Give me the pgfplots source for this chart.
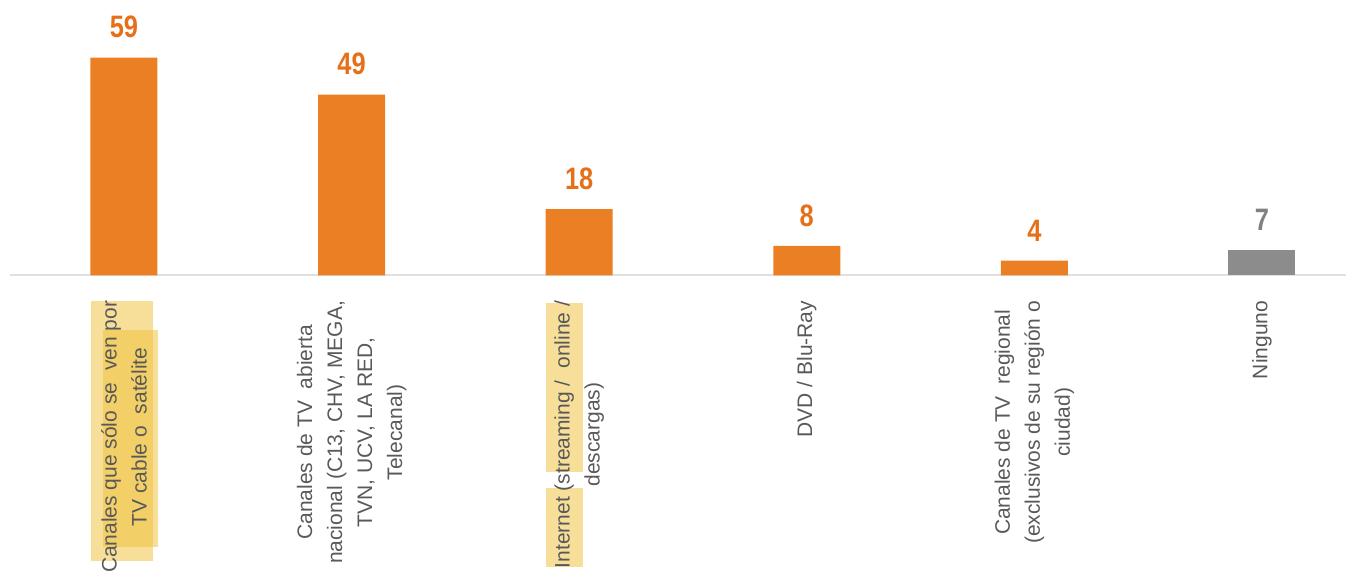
\documentclass[border=0pt]{standalone}
\usepackage{pgfplots}
\pgfplotsset{compat=1.18}
\usepackage{fontspec}
\setmainfont{Liberation Sans}
\newfontfamily\narrowfont[FakeStretch=0.82]{Liberation Sans}
\definecolor{barorange}{RGB}{235,127,35}
\definecolor{lblorange}{RGB}{230,112,25}
\definecolor{bargray}{RGB}{140,140,140}
\definecolor{lblgray}{RGB}{128,128,128}
\definecolor{txtgray}{RGB}{89,89,89}
\definecolor{hl}{RGB}{239,191,53}
\begin{document}
\begin{tikzpicture}
\begin{scope}[x=0.5pt,y=-0.5pt,shift={(-5.1pt,137.75pt)}]
  \fill[hl,opacity=0.5] (91,301) rectangle (153,561);
  \fill[hl,opacity=0.5] (103,330) rectangle (158,547);
  \fill[hl,opacity=0.5] (546,303) rectangle (583,472);
  \fill[hl,opacity=0.5] (546,488) rectangle (583,567);
\end{scope}
\begin{axis}[
  name=ax, at={(0,0)}, anchor=south west,
  scale only axis, width=668pt, height=137.75pt,
  xmin=-0.5, xmax=5.37, ymin=0, ymax=74.6,
  axis y line=none, axis x line*=bottom,
  x axis line style={color=black!12, line width=1pt},
  major tick length=0pt,
  xtick={0,1,2,3,4,5},
  xticklabels={
    {Canales que sólo se\ \ ven por\\TV cable o\ \ satélite},
    {Canales de TV\ \ abierta\\nacional (C13,\ CHV, MEGA,\\TVN, UCV, LA RED,\\Telecanal)},
    {Internet (streaming /\ \ online /\\descargas)},
    {DVD / Blu-Ray},
    {Canales de TV\ \ regional\\(exclusivos de su región o\\ciudad)},
    {Ninguno}},
  xticklabel style={rotate=90, anchor=east, align=center, inner sep=0pt,
    font=\fontsize{10.5}{15}\selectfont, text=txtgray},
  xticklabel shift=12.5pt,
  /pgf/number format/assume math mode=true,
  ybar, bar width=33.5pt, bar shift=0pt,
  nodes near coords,
  every node near coord/.append style={anchor=south, inner sep=0pt, yshift=9.5pt,
    font=\fontsize{15.5}{18}\narrowfont\bfseries},
  clip=false,
]
\addplot[fill=barorange, draw=none, every node near coord/.append style={text=lblorange}]
  coordinates {(0,59) (1,49) (2,18) (3,8) (4,4)};
\addplot[fill=bargray, draw=none, every node near coord/.append style={text=lblgray}]
  coordinates {(5,7)};
\end{axis}
\begin{scope}[x=0.5pt,y=-0.5pt,shift={(-5.1pt,137.75pt)}]
  \pgfresetboundingbox
  \path[use as bounding box] (0,0) rectangle (1357,572);
\end{scope}
\end{tikzpicture}
\end{document}
